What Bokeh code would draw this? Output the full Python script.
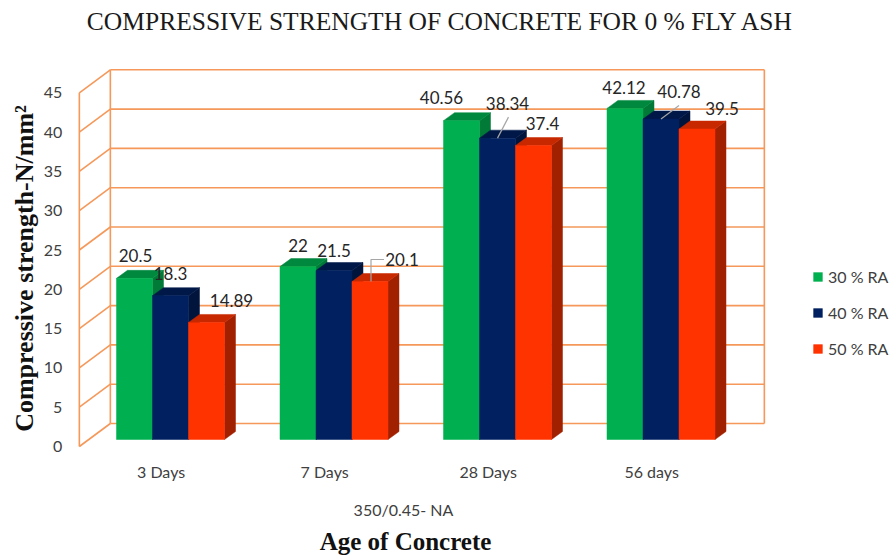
from math import pi
from bokeh.plotting import figure
from bokeh.models import Range1d, Label, Legend, LegendItem, ColumnDataSource
from bokeh.core.properties import value
from bokeh.embed import file_html
from bokeh.resources import INLINE

# ---------------- data ----------------
categories = ["3 Days", "7 Days", "28 Days", "56 days"]
series_names = ["30 % RA", "40 % RA", "50 % RA"]
ra30 = [20.5, 22, 40.56, 42.12]
ra40 = [18.3, 21.5, 38.34, 40.78]
ra50 = [14.89, 20.1, 37.4, 39.5]
y_ticks = [0, 5, 10, 15, 20, 25, 30, 35, 40, 45]
title_text = "COMPRESSIVE STRENGTH OF CONCRETE FOR 0 % FLY ASH"
y_title = "Compressive strength-N/mm\u00b2"
x_subtitle = "350/0.45- NA"
x_title = "Age of Concrete"

series_values = [ra30, ra40, ra50]

# ---------------- style / layout ----------------
front_cols = ["#00B050", "#002060", "#FF3300"]
top_cols = ["#00883E", "#001848", "#C82800"]
side_cols = ["#007A36", "#00143C", "#A02000"]
grid_col = "#F5985A"
text_col = "#404040"
LABEL_FONT = "Lato"
SERIF = "Liberation Serif"

W, H = 893, 555
PX_CAT = 163.5      # pixels per category
PX_VAL = 7.86       # pixels per N/mm2
ORIGIN_X = 170.0    # pixel of first category centre (bar plane)
ORIGIN_Y = 439.0    # pixel of value 0 (bar plane)
x0 = 0.5 - ORIGIN_X / PX_CAT
x1 = x0 + W / PX_CAT
y1 = ORIGIN_Y / PX_VAL
y0 = y1 - H / PX_VAL

# depth offsets (px) relative to the bar plane (right, up)
front_off = (-9.4, -7.0)
back_off = (21.6, 16.0)
bar_depth = (11.0, 8.0)
bar_w = 36.0 / PX_CAT

fdx, fdy = front_off[0] / PX_CAT, front_off[1] / PX_VAL
bdx, bdy = back_off[0] / PX_CAT, back_off[1] / PX_VAL
ddx, ddy = bar_depth[0] / PX_CAT, bar_depth[1] / PX_VAL

p = figure(width=W, height=H, output_backend="svg", toolbar_location=None,
           x_range=Range1d(x0, x1), y_range=Range1d(y0, y1),
           min_border=0, x_axis_location=None, y_axis_location=None)
p.xgrid.visible = False
p.ygrid.visible = False
p.outline_line_color = None
p.background_fill_color = "white"
p.border_fill_color = "white"

ncat = len(categories)
cat_pos = [i + 0.5 for i in range(ncat)]

# ---------------- walls ----------------
ymax = y_ticks[-1]
hx, hy = [], []
for t in y_ticks:
    hx.append([0 + bdx, ncat + bdx])
    hy.append([t + bdy, t + bdy])
    hx.append([fdx, bdx])
    hy.append([t + fdy, t + bdy])
for xv in (0, ncat):
    hx.append([xv + bdx, xv + bdx])
    hy.append([bdy, ymax + bdy])
hx.append([fdx, fdx])
hy.append([fdy, ymax + fdy])
p.multi_line(hx, hy, line_color=grid_col, line_width=1.6)

# ---------------- axis tick labels (front plane) ----------------
p.text(x=[fdx] * len(y_ticks), y=[t + fdy for t in y_ticks],
       text=[str(t) for t in y_ticks], x_offset=-17,
       text_font=value(LABEL_FONT), text_font_size="16px", text_color=text_col,
       text_align="right", text_baseline="middle")
p.text(x=[c + fdx for c in cat_pos], y=[fdy] * ncat, text=categories, y_offset=25,
       text_font=value(LABEL_FONT), text_font_size="16px", text_color=text_col,
       text_align="center", text_baseline="middle")

# ---------------- bars ----------------
legend_items = []
for s, vals in enumerate(series_values):
    lefts = [c + (s - 1.5) * bar_w for c in cat_pos]
    rights = [l + bar_w for l in lefts]
    side_x = [[r, r + ddx, r + ddx, r] for r in rights]
    side_y = [[0, ddy, v + ddy, v] for v in vals]
    top_x = [[l, r, r + ddx, l + ddx] for l, r in zip(lefts, rights)]
    top_y = [[v, v, v + ddy, v + ddy] for v in vals]
    p.patches(side_x, side_y, fill_color=side_cols[s], line_color=side_cols[s], line_width=0.5)
    p.patches(top_x, top_y, fill_color=top_cols[s], line_color=top_cols[s], line_width=0.5)
    r = p.quad(left=lefts, right=rights, bottom=0, top=vals,
               fill_color=front_cols[s], line_color=front_cols[s], line_width=0.5)
    legend_items.append(LegendItem(label=series_names[s], renderers=[r]))

# ---------------- data labels ----------------
# screen offsets (right, up) of each label from the bar's top centre
label_off = [
    [(1, 23), (0, 21), (-20, 23), (-1, 21)],
    [(0, 22), (0, 20), (10, 35), (18, 27)],
    [(25, 22), (32, 22), (9, 22), (25, 21)],
]
lx, ly, lt, lxo, lyo = [], [], [], [], []
for s, vals in enumerate(series_values):
    for i, v in enumerate(vals):
        lx.append(cat_pos[i] + (s - 1) * bar_w)
        ly.append(v)
        lt.append(f"{v:g}")
        lxo.append(label_off[s][i][0])
        lyo.append(-label_off[s][i][1])
src = ColumnDataSource(dict(x=lx, y=ly, text=lt, xo=lxo, yo=lyo))
p.text(x="x", y="y", text="text", x_offset="xo", y_offset="yo", source=src,
       text_font=value(LABEL_FONT), text_font_size="17px", text_color="#262626",
       text_align="center", text_baseline="middle")

# leader lines (px offsets from bar top centre: right, up)
leaders = [
    (2, 1, [(1, 0), (1, 22), (14, 22)]),
    (1, 2, [(0, 0), (11, 21)]),
    (1, 3, [(0, 0), (18, 13.5)]),
]
mx, my = [], []
for s, i, pts in leaders:
    cx = cat_pos[i] + (s - 1) * bar_w
    v = series_values[s][i]
    mx.append([cx + a / PX_CAT for a, b in pts])
    my.append([v + b / PX_VAL for a, b in pts])
p.multi_line(mx, my, line_color="#A6A6A6", line_width=1.2)

# ---------------- legend ----------------
legend = Legend(items=legend_items, location=(812, 197), orientation="vertical",
                glyph_width=11, glyph_height=11, label_height=11,
                label_standoff=5, spacing=17, padding=0, margin=0,
                border_line_color=None, background_fill_alpha=0,
                label_text_font=LABEL_FONT, label_text_font_size="16px",
                label_text_color=text_col)
p.add_layout(legend, "center")

# ---------------- titles ----------------
p.add_layout(Label(x=440, y=534, x_units="screen", y_units="screen", text=title_text,
                   text_font=SERIF, text_font_size="25.5px",
                   text_color="#1a1a1a", text_align="center", text_baseline="middle"))
p.add_layout(Label(x=24, y=287, x_units="screen", y_units="screen", text=y_title,
                   angle=pi / 2, text_font=SERIF, text_font_size="26px",
                   text_font_style="bold", text_color="#111111",
                   text_align="center", text_baseline="middle"))
p.add_layout(Label(x=403, y=46, x_units="screen", y_units="screen", text=x_subtitle,
                   text_font=LABEL_FONT, text_font_size="16px", text_color=text_col,
                   text_align="center", text_baseline="middle"))
p.add_layout(Label(x=405, y=14, x_units="screen", y_units="screen", text=x_title,
                   text_font=SERIF, text_font_size="25px",
                   text_font_style="bold", text_color="#111111",
                   text_align="center", text_baseline="middle"))

open("out.html", "w").write(file_html(p, INLINE))
